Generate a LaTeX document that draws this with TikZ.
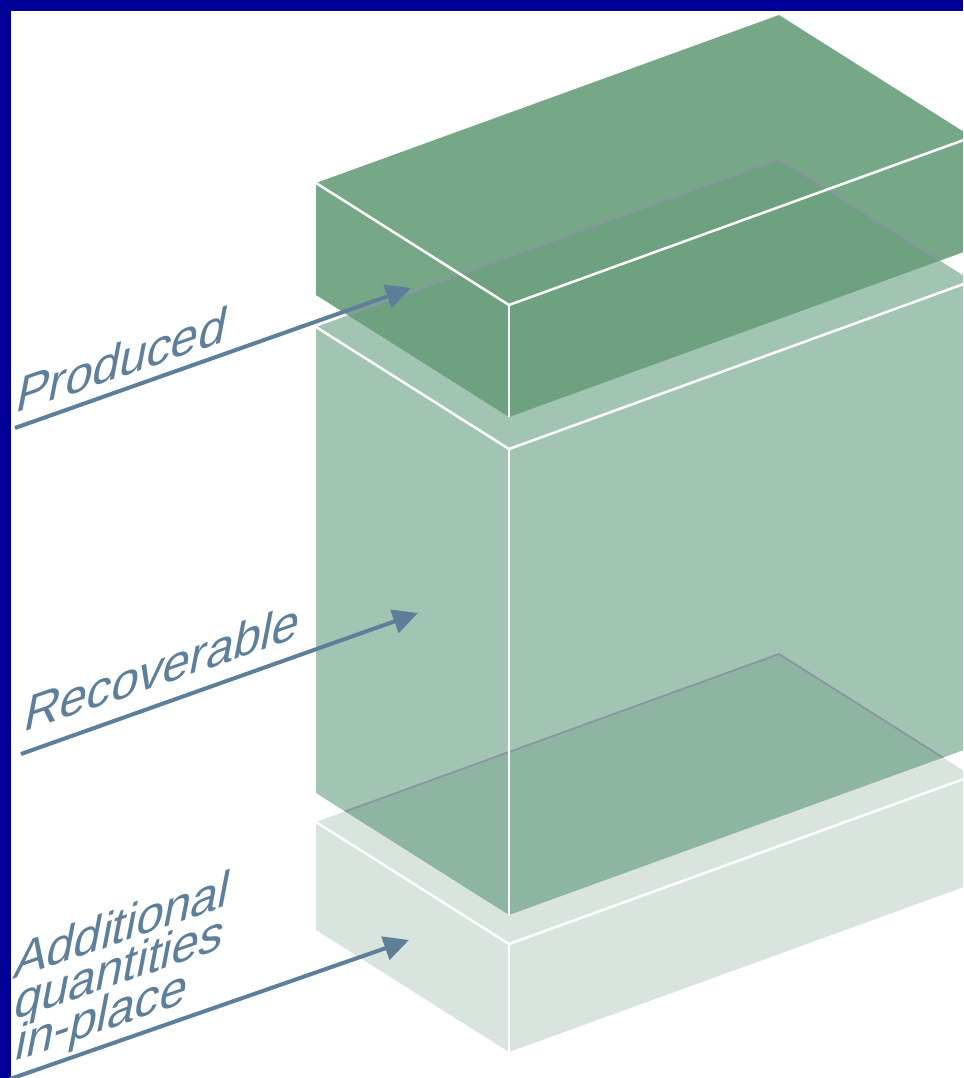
\documentclass[tikz,border=0pt]{standalone}
\usepackage{fontspec}
\setmainfont{Liberation Sans}
\usetikzlibrary{arrows.meta}
\definecolor{navy}{RGB}{0,0,153}
\definecolor{boxtop}{RGB}{104,158,123}
\definecolor{boxmid}{RGB}{61,131,95}
\definecolor{boxlow}{RGB}{217,228,222}
\definecolor{hiddenc}{RGB}{138,150,162}
\definecolor{arrowc}{RGB}{94,127,153}
\tikzset{
  edgeline/.style={draw=white, line width=2.5pt, line join=miter},
  hidline/.style={draw=hiddenc, line width=1.8pt},
  callout/.style={draw=arrowc, line width=4pt, -{Triangle[length=25pt,width=24pt]}},
  lbl/.style={text=arrowc, font=\fontsize{53}{53}\selectfont, anchor=base west, inner sep=0pt, transform shape},
  slanted/.style={cm={0.922,0.3175,0.19,0.982,(0,0)}}
}
\begin{document}
\begin{tikzpicture}[x=1pt,y=-1pt]
\useasboundingbox (0,0) rectangle (963,1078);
\clip (0,0) rectangle (963,1078);
\fill[white] (0,0) rectangle (963,1078);

% top box (Produced)
\coordinate (L1) at (316,183);  \coordinate (B1) at (779,15);
\coordinate (R1) at (972,137);  \coordinate (F1) at (509,305);
\coordinate (L1b) at (316,295); \coordinate (R1b) at (972,249);
\coordinate (F1b) at (509,417);
% middle box (Recoverable)
\coordinate (L2) at (316,327);  \coordinate (B2) at (779,159);
\coordinate (R2) at (972,281);  \coordinate (F2) at (509,449);
\coordinate (L2b) at (316,793); \coordinate (R2b) at (972,747);
\coordinate (F2b) at (509,915);
% bottom box (Additional quantities in-place)
\coordinate (L3) at (316,822);  \coordinate (B3) at (779,654);
\coordinate (R3) at (972,776);  \coordinate (F3) at (509,944);
\coordinate (L3b) at (316,930); \coordinate (R3b) at (972,884);
\coordinate (F3b) at (509,1052);

% bottom box
\fill[boxlow] (L3) -- (B3) -- (R3) -- (R3b) -- (F3b) -- (L3b) -- cycle;
\draw[edgeline] (L3) -- (F3) -- (R3);
\draw[edgeline] (F3) -- (F3b);

% middle box
\fill[boxmid, fill opacity=0.474] (L2) -- (B2) -- (R2) -- (R2b) -- (F2b) -- (L2b) -- cycle;
\begin{scope}
  \clip (L2) -- (B2) -- (R2) -- (R2b) -- (F2b) -- (L2b) -- cycle;
  \draw[hidline] (L3) -- (B3) -- (R3);
\end{scope}
\draw[edgeline] (L2) -- (F2) -- (R2);
\draw[edgeline] (F2) -- (F2b);

% top box
\fill[boxtop, fill opacity=0.9] (L1) -- (B1) -- (R1) -- (R1b) -- (F1b) -- (L1b) -- cycle;
\begin{scope}
  \clip (L1) -- (B1) -- (R1) -- (R1b) -- (F1b) -- (L1b) -- cycle;
  \draw[hidline] (L2) -- (B2) -- (R2);
\end{scope}
\draw[edgeline] (L1) -- (F1) -- (R1);
\draw[edgeline] (F1) -- (F1b);

% border
\fill[navy] (0,0) rectangle (963,11);
\fill[navy] (0,0) rectangle (11,1078);

% callout arrows
\coordinate (pS) at (15,428);  \coordinate (pE) at (411,288);
\coordinate (rS) at (21,754);  \coordinate (rE) at (418,613);
\coordinate (aS) at (10,1079); \coordinate (aE) at (409,940);
\draw[callout] (pS) -- (pE);
\draw[callout] (rS) -- (rE);
\draw[callout] (aS) -- (aE);

% labels
\begin{scope}[shift={(14,414)}, slanted]
  \node[lbl] (produced) at (0,0) {Produced};
\end{scope}
\begin{scope}[shift={(22,733)}, slanted]
  \node[lbl] (recoverable) at (0,0) {Recoverable};
\end{scope}
\begin{scope}[shift={(12,980)}, slanted]
  \node[lbl] (additional) at (0,0) {Additional};
\end{scope}
\begin{scope}[shift={(12,1021)}, slanted]
  \node[lbl] (quantities) at (0,0) {quantities};
\end{scope}
\begin{scope}[shift={(13,1062)}, slanted]
  \node[lbl] (inplace) at (0,0) {in-place};
\end{scope}
\end{tikzpicture}
\end{document}
